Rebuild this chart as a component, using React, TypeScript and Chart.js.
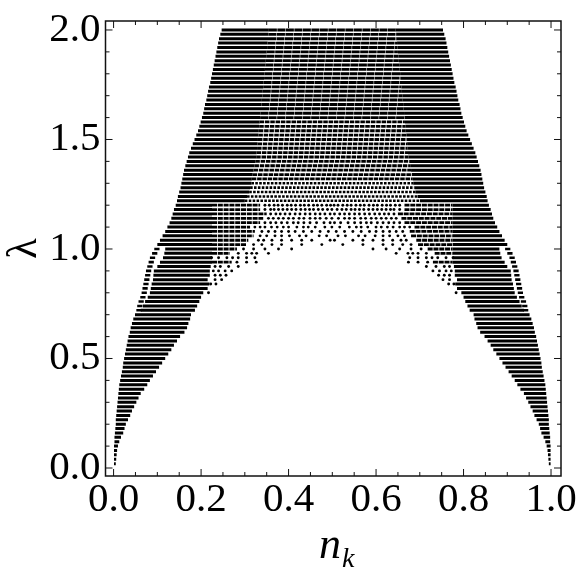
import React, { useEffect, useRef } from "react";
import { Chart, registerables } from "chart.js";

Chart.register(...registerables);

const lambdaRows = [
  0.02,0.04,0.06,0.08,0.10,0.12,0.14,0.16,0.18,0.20,
  0.22,0.24,0.26,0.28,0.30,0.32,0.34,0.36,0.38,0.40,
  0.42,0.44,0.46,0.48,0.50,0.52,0.54,0.56,0.58,0.60,
  0.62,0.64,0.66,0.68,0.70,0.72,0.74,0.76,0.78,0.80,
  0.82,0.84,0.86,0.88,0.90,0.92,0.94,0.96,0.98,1.00,
  1.02,1.04,1.06,1.08,1.10,1.12,1.14,1.16,1.18,1.20,
  1.22,1.24,1.26,1.28,1.30,1.32,1.34,1.36,1.38,1.40,
  1.42,1.44,1.46,1.48,1.50,1.52,1.54,1.56,1.58,1.60,
  1.62,1.64,1.66,1.68,1.70,1.72,1.74,1.76,1.78,1.80,
  1.82,1.84,1.86,1.88,1.90,1.92,1.94,1.96,1.98,2.00,
];
const leftEdge = [
  .001,.001,.001,.001,.001,.002,.002,.003,.004,.005,
  .005,.006,.007,.008,.009,.010,.011,.012,.013,.015,
  .017,.019,.021,.022,.024,.026,.028,.030,.032,.034,
  .037,.039,.042,.045,.049,.052,.054,.057,.061,.064,
  .066,.068,.070,.072,.074,.077,.080,.083,.088,.093,
  .100,.106,.112,.118,.123,.128,.132,.135,.138,.142,
  .145,.147,.150,.153,.155,.157,.159,.161,.164,.167,
  .170,.173,.177,.181,.185,.189,.193,.196,.199,.202,
  .205,.207,.209,.212,.214,.216,.218,.221,.223,.225,
  .227,.229,.231,.233,.235,.237,.239,.241,.244,.247,
];
const rightEdge = [
  .999,.999,.999,.999,.999,.998,.998,.997,.996,.995,
  .995,.994,.993,.992,.991,.990,.989,.988,.987,.985,
  .983,.981,.979,.978,.976,.974,.972,.970,.968,.966,
  .963,.961,.958,.955,.951,.948,.946,.943,.939,.936,
  .934,.932,.930,.928,.926,.923,.920,.917,.912,.907,
  .900,.894,.888,.882,.877,.872,.868,.865,.862,.858,
  .855,.853,.850,.847,.845,.843,.841,.839,.836,.833,
  .830,.827,.823,.819,.815,.811,.807,.804,.801,.798,
  .795,.793,.791,.788,.786,.784,.782,.779,.777,.775,
  .773,.771,.769,.767,.765,.763,.761,.759,.756,.753,
];
const leftBandEnd = [
  .005,.006,.007,.008,.010,.013,.017,.022,.025,.028,
  .033,.038,.042,.047,.052,.057,.062,.070,.077,.083,
  .090,.097,.104,.111,.118,.125,.132,.138,.145,.152,
  .162,.168,.171,.175,.177,.186,.191,.196,.200,.205,
  .215,.219,.215,.220,.220,.222,.225,.225,.225,.225,
  .225,.225,.225,.225,.225,.225,.225,.225,.225,.225,
  .300,.305,.310,.312,.315,.316,.318,.320,.322,.324,
  .326,.327,.328,.329,.330,.331,.332,.333,.334,.335,
  .336,.337,.338,.339,.340,.341,.342,.343,.344,.345,
  .346,.347,.348,.349,.350,.351,.352,.353,.354,.355,
];
const rightBandStart = [
  .995,.994,.993,.992,.990,.987,.983,.978,.975,.972,
  .967,.962,.958,.953,.948,.943,.938,.930,.923,.917,
  .910,.903,.896,.889,.882,.875,.868,.862,.855,.848,
  .838,.832,.829,.825,.823,.814,.809,.804,.800,.795,
  .785,.781,.785,.780,.780,.778,.775,.775,.775,.775,
  .775,.775,.775,.775,.775,.775,.775,.775,.775,.775,
  .700,.695,.690,.688,.685,.684,.682,.680,.678,.676,
  .674,.673,.672,.671,.670,.669,.668,.667,.666,.665,
  .664,.663,.662,.661,.660,.659,.658,.657,.656,.655,
  .654,.653,.652,.651,.650,.649,.648,.647,.646,.645,
];

const arcLambda = [.72,.74,.76,.78,.80,.82,.84,.86,.88,.90,.92,.94,.96,.98,1.00];
const leftBandStartArc = [.062,.067,.072,.078,.083,.085,.087,.090,.091,.092,.100,.106,.113,.116,.118];
const rightBandEndArc = [.938,.933,.928,.922,.917,.915,.913,.910,.909,.908,.900,.894,.887,.884,.882];

const denseLambda = [.94,.98,1.00,1.02,1.04,1.06,1.08,1.10,1.12,1.14,1.16,1.18,1.20];
const leftDenseEnd = [.270,.266,.282,.304,.308,.320,.323,.312,.335,.342,.350,.335,.335];
const rightDenseStart = [.730,.734,.718,.696,.692,.680,.677,.688,.665,.658,.650,.665,.665];

const dotLambda = [.80,.84,.86,.88,.90,.92,.94,.96,.98,1.00,1.02,1.04,1.06,1.08,1.10,1.12,1.14,1.16,1.18,1.20];
const dotsLeft = [
  [.217],
  [.222,.234],
  [.232,.247],
  [.232,.244,.257],
  [.228,.240,.255,.270],
  [.232,.244,.263,.285],
  [.282,.304,.326],
  [.224,.240,.259,.272,.285,.304,.323],
  [.285,.304,.316,.327,.354],
  [.297,.320,.346,.377,.407],
  [.320,.339,.362,.384,.430,.476],
  [.331,.343,.362,.384,.407,.430,.453,.495],
  [.335,.350,.369,.384,.402,.425,.440,.470,.487],
  [.339,.354,.369,.384,.400,.415,.434,.453,.472,.491],
  [.323,.335,.346,.361,.374,.388,.400,.419,.434,.445,.461,.483,.499],
  [.346,.359,.371,.384,.397,.411,.422,.435,.449,.464,.481,.495],
  [.354,.365,.377,.388,.400,.411,.424,.435,.449,.461,.472,.486,.499],
  [.359,.371,.381,.392,.403,.415,.426,.438,.449,.461,.472,.483,.495],
  [.346,.359,.367,.377,.387,.397,.407,.417,.428,.438,.448,.457,.468,.478,.489,.499],
  [.346,.356,.367,.376,.386,.397,.406,.416,.427,.436,.446,.457,.466,.476,.487,.496],
];
const dotsRight = [
  [.783],
  [.778,.766],
  [.768,.753],
  [.768,.756,.743],
  [.772,.760,.745,.730],
  [.768,.756,.737,.715],
  [.718,.696,.674],
  [.776,.760,.741,.728,.715,.696,.677],
  [.715,.696,.684,.673,.646],
  [.703,.680,.654,.623,.593],
  [.680,.661,.638,.616,.570,.524],
  [.669,.657,.638,.616,.593,.570,.547,.505],
  [.665,.650,.631,.616,.598,.575,.560,.530,.513],
  [.661,.646,.631,.616,.600,.585,.566,.547,.528,.509],
  [.677,.665,.654,.639,.626,.612,.600,.581,.566,.555,.539,.517],
  [.654,.641,.629,.616,.603,.589,.578,.565,.551,.536,.519,.505],
  [.646,.635,.623,.612,.600,.589,.576,.565,.551,.539,.528,.514],
  [.641,.629,.619,.608,.597,.585,.574,.562,.551,.539,.528,.517,.505],
  [.654,.641,.633,.623,.613,.603,.593,.583,.572,.562,.552,.543,.532,.522,.511],
  [.654,.644,.633,.624,.614,.603,.594,.584,.573,.564,.554,.543,.534,.524,.513,.504],
];

const xLabelTicks = [0, 0.2, 0.4, 0.6, 0.8, 1.0];
const yLabelTicks = [0, 0.5, 1.0, 1.5, 2.0];
const xMinorTicks = [.05,.1,.15,.25,.3,.35,.45,.5,.55,.65,.7,.75,.85,.9,.95];
const yMinorTicks = [.1,.2,.3,.4,.6,.7,.8,.9,1.1,1.2,1.3,1.4,1.6,1.7,1.8,1.9];

type P = { x: number; y: number };
const gap: P = { x: NaN, y: NaN };

function buildMarks() {
  const solid: P[] = [];
  const arc: P[] = [];
  const dense: P[] = [];
  const coarse: P[] = [];
  const mid: P[] = [];
  const fine: P[] = [];
  const span = (list: P[], a: number, b: number, y: number) => {
    list.push({ x: a, y }, { x: b, y }, gap);
  };
  lambdaRows.forEach((y, i) => {
    const a = arcLambda.indexOf(y);
    if (a >= 0) {
      span(arc, leftEdge[i], leftEdge[i] + 0.012, y);
      span(arc, rightEdge[i] - 0.012, rightEdge[i], y);
    }
    span(solid, a >= 0 ? leftBandStartArc[a] : leftEdge[i], leftBandEnd[i], y);
    span(solid, rightBandStart[i], a >= 0 ? rightBandEndArc[a] : rightEdge[i], y);
    const d = denseLambda.indexOf(y);
    if (d >= 0) {
      span(dense, leftBandEnd[i], leftDenseEnd[d], y);
      span(dense, rightDenseStart[d], rightBandStart[i], y);
    }
    if (y > 1.2) {
      const target = y < 1.32 ? coarse : y < 1.6 ? mid : fine;
      span(target, leftBandEnd[i], rightBandStart[i], y);
    }
  });
  const dots: P[] = [];
  dotLambda.forEach((y, i) => {
    dotsLeft[i].forEach((x) => dots.push({ x, y }));
    dotsRight[i].forEach((x) => dots.push({ x, y }));
  });
  return { solid, arc, dense, coarse, mid, fine, dots };
}

const SERIF = "'Liberation Serif', serif";

const decorations = {
  id: "decorations",
  afterDraw(chart: any) {
    const { ctx, chartArea: c, scales } = chart;
    const { x: sx, y: sy } = scales;
    ctx.save();
    ctx.strokeStyle = "#111";
    ctx.lineWidth = 1;
    const vt = (v: number, len: number) => {
      const p = sx.getPixelForValue(v);
      ctx.beginPath();
      ctx.moveTo(p, c.bottom);
      ctx.lineTo(p, c.bottom - len);
      ctx.moveTo(p, c.top);
      ctx.lineTo(p, c.top + len);
      ctx.stroke();
    };
    const ht = (v: number, len: number) => {
      const p = sy.getPixelForValue(v);
      ctx.beginPath();
      ctx.moveTo(c.left, p);
      ctx.lineTo(c.left + len, p);
      ctx.moveTo(c.right, p);
      ctx.lineTo(c.right - len, p);
      ctx.stroke();
    };
    xLabelTicks.forEach((v) => vt(v, 7));
    xMinorTicks.forEach((v) => vt(v, 4));
    yLabelTicks.forEach((v) => ht(v, 7));
    yMinorTicks.forEach((v) => ht(v, 4));
    ctx.lineWidth = 1.5;
    ctx.strokeRect(c.left, c.top, c.right - c.left, c.bottom - c.top);
    ctx.fillStyle = "#000";
    ctx.textBaseline = "alphabetic";
    ctx.textAlign = "left";
    ctx.font = `italic 44px ${SERIF}`;
    ctx.fillText("n", 319, 558);
    ctx.font = `italic 28px ${SERIF}`;
    ctx.fillText("k", 342, 567);
    ctx.restore();
  },
};

export default function App() {
  const ref = useRef<HTMLCanvasElement | null>(null);
  useEffect(() => {
    if (!ref.current) return;
    const m = buildMarks();
    const line = (label: string, data: P[], width: number, dash: number[] = []) => ({
      label,
      data,
      showLine: true,
      spanGaps: false,
      borderColor: "#000",
      borderWidth: width,
      borderDash: dash,
      borderCapStyle: "butt" as const,
      pointRadius: 0,
      tension: 0,
    });
    const chart = new Chart(ref.current, {
      type: "scatter",
      data: {
        datasets: [
          line("solid", m.solid, 3),
          line("arc", m.arc, 2.6),
          line("dense", m.dense, 2.8, [5, 0.8]),
          line("coarse", m.coarse, 2.6, [2.6, 1.3]),
          line("mid", m.mid, 2.8, [4.5, 0.8]),
          line("fine", m.fine, 2.9, [8, 0.5]),
          {
            label: "dots",
            data: m.dots,
            showLine: false,
            pointRadius: 1.45,
            pointBorderWidth: 0,
            pointBackgroundColor: "#000",
          },
        ],
      } as any,
      options: {
        animation: false,
        responsive: false,
        devicePixelRatio: 1,
        layout: { padding: { top: 21, right: 20, left: 0, bottom: 0 } },
        plugins: { legend: { display: false }, tooltip: { enabled: false } },
        scales: {
          x: {
            type: "linear",
            min: -0.0185,
            max: 1.0228,
            grid: { display: false, drawTicks: false, tickLength: 0 },
            border: { display: false },
            afterFit: (s: any) => { s.height = 105; s.paddingLeft = 0; s.paddingRight = 0; },
            afterBuildTicks: (s: any) => { s.ticks = xLabelTicks.map((value) => ({ value })); },
            ticks: {
              autoSkip: false,
              maxRotation: 0,
              padding: 0,
              color: "#000",
              font: { family: SERIF, size: 41 },
              callback: (v: any) => Number(v).toFixed(1),
            },
          },
          y: {
            type: "linear",
            min: -0.0365,
            max: 2.041,
            grid: { display: false, drawTicks: false, tickLength: 0 },
            border: { display: false },
            afterFit: (s: any) => { s.width = 105.5; s.paddingTop = 0; s.paddingBottom = 0; },
            afterBuildTicks: (s: any) => { s.ticks = yLabelTicks.map((value) => ({ value })); },
            title: {
              display: true,
              text: "λ",
              color: "#000",
              font: { family: SERIF, size: 42 },
              padding: 0,
            },
            ticks: {
              autoSkip: false,
              padding: 5,
              color: "#000",
              font: { family: SERIF, size: 41 },
              callback: (v: any) => Number(v).toFixed(1),
            },
          },
        },
      },
      plugins: [decorations],
    } as any);
    return () => chart.destroy();
  }, []);
  return (
    <canvas
      ref={ref}
      width={581}
      height={581}
      style={{ position: "fixed", left: 0, top: 0, width: 581, height: 581, display: "block" }}
    />
  );
}
